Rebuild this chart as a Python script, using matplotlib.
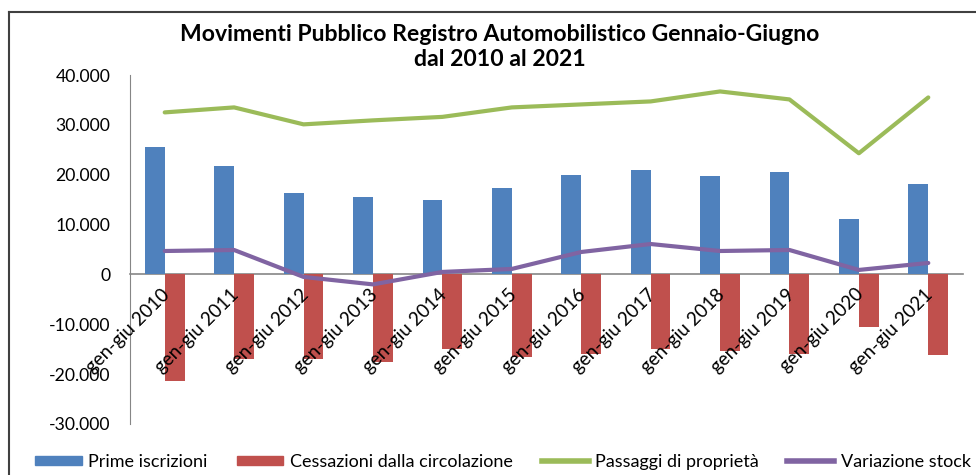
#!/usr/bin/env python3
"""
Movimenti PRA gennaio-giugno 2010-2021: bars + lines, Excel-like look.
"""
import matplotlib
matplotlib.use("Agg")
import matplotlib.pyplot as plt
import matplotlib.transforms as mtransforms
from matplotlib.lines import Line2D
from matplotlib.ticker import FuncFormatter
import numpy as np

categories = [f"gen-giu {y}" for y in range(2010, 2022)]
prime_iscrizioni = [25600, 21700, 16400, 15500, 14900, 17300, 20000, 20900, 19700, 20500, 11100, 18100]
cessazioni = [-21400, -17000, -17000, -17500, -14900, -16500, -15900, -14900, -15300, -15900, -10500, -16100]
passaggi = [32500, 33500, 30100, 30900, 31600, 33500, 34100, 34700, 36700, 35100, 24300, 35500]
variazione_stock = [4700, 4900, -500, -2000, 500, 1100, 4500, 6100, 4700, 4900, 900, 2300]

title = "Movimenti Pubblico Registro Automobilistico Gennaio-Giugno\ndal 2010 al 2021"
series_names = ["Prime iscrizioni", "Cessazioni dalla circolazione",
                "Passaggi di proprietà", "Variazione stock"]

BLUE, RED, GREEN, PURPLE = "#4F81BD", "#C0504D", "#9BBB59", "#8064A2"
GRAY = "#868686"


def main() -> None:
    plt.rcParams["font.family"] = ["Lato", "DejaVu Sans"]

    fig = plt.figure(figsize=(9.76, 4.75), dpi=100)
    ax = fig.add_axes([130 / 976, 1 - 424 / 475, (963 - 130) / 976, (424 - 75) / 475])
    ax.set_axisbelow(False)

    x = np.arange(len(categories))
    w = 1 / 3.5
    ax.bar(x - w / 2, prime_iscrizioni, w, color=BLUE, label=series_names[0], zorder=2)
    ax.bar(x + w / 2, cessazioni, w, color=RED, label=series_names[1], zorder=2)
    ax.plot(x, passaggi, color=GREEN, lw=3, label=series_names[2], zorder=3,
            solid_joinstyle="round", solid_capstyle="round")
    ax.plot(x, variazione_stock, color=PURPLE, lw=3, label=series_names[3], zorder=3,
            solid_joinstyle="round", solid_capstyle="round")

    ax.set_xlim(-0.5, len(categories) - 0.5)
    ax.set_ylim(-30000, 40000)
    ax.set_yticks(range(-30000, 40001, 10000))
    ax.yaxis.set_major_formatter(FuncFormatter(lambda v, _: f"{int(v):,}".replace(",", ".")))

    for side in ("top", "right"):
        ax.spines[side].set_visible(False)
    ax.spines["left"].set_color(GRAY)
    ax.spines["bottom"].set_position(("data", 0))
    ax.spines["bottom"].set_color(GRAY)
    ax.spines["bottom"].set_linewidth(1.2)
    ax.spines["bottom"].set_zorder(1)

    ax.set_xticks(x)
    ax.set_xticklabels(categories, rotation=45, ha="right", rotation_mode="anchor")
    ax.tick_params(axis="x", length=0, pad=8, labelsize=13.5)
    ax.tick_params(axis="y", length=0, pad=14, labelsize=12.7)
    shift = mtransforms.ScaledTranslation(-4 / 100, 0, fig.dpi_scale_trans)
    for lab in ax.get_xticklabels():
        lab.set_transform(lab.get_transform() + shift)

    fig.text(0.512, 1 - 47 / 475, title, ha="center", va="center",
             fontsize=16.6, fontweight="bold", linespacing=1.25)

    handles = [
        plt.Rectangle((0, 0), 1, 1, color=BLUE),
        plt.Rectangle((0, 0), 1, 1, color=RED),
        Line2D([], [], color=GREEN, lw=4),
        Line2D([], [], color=PURPLE, lw=4),
    ]
    fig.legend(handles, series_names, loc="center left", ncol=4, frameon=False,
               bbox_to_anchor=(35 / 976, 1 - 462 / 475), fontsize=13,
               borderpad=0, borderaxespad=0,
               handlelength=2.6, handleheight=0.45, handletextpad=0.35, columnspacing=1.6)

    # chart area border (cropped on the right and bottom)
    fig.add_artist(Line2D([9 / 976, 1], [1 - 12 / 475] * 2, color="#404040", lw=1.5,
                          transform=fig.transFigure))
    fig.add_artist(Line2D([9 / 976] * 2, [0, 1 - 12 / 475], color="#404040", lw=1.5,
                          transform=fig.transFigure))

    fig.savefig("out.png", dpi=100)
    plt.close(fig)


if __name__ == "__main__":
    main()
